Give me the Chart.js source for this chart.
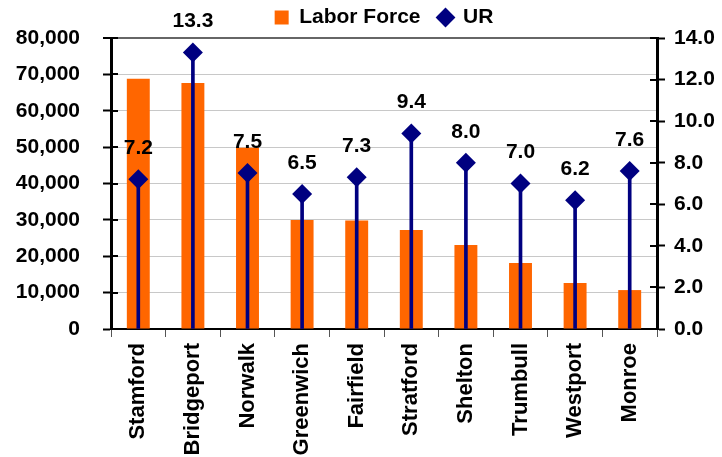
<!DOCTYPE html>
<html>
<head>
<meta charset="utf-8">
<script src="https://cdn.jsdelivr.net/npm/chart.js@4/dist/chart.umd.min.js"></script>
<style>
  body { margin: 0; background: #fff; }
</style>
</head>
<body>
<canvas id="myChart" width="722" height="457"></canvas>
<script>
// datos
const towns = ['Stamford', 'Bridgeport', 'Norwalk', 'Greenwich', 'Fairfield', 'Stratford', 'Shelton', 'Trumbull', 'Westport', 'Monroe'];
const laborForce = [68800, 67600, 49800, 30000, 29800, 27200, 23100, 18150, 12650, 10700];
const ur = [7.2, 13.3, 7.5, 6.5, 7.3, 9.4, 8.0, 7.0, 6.2, 7.6];

const FONT = "'Liberation Sans', Arial, Helvetica, sans-serif";
Chart.defaults.font.family = FONT;
Chart.defaults.font.weight = 'bold';
Chart.defaults.font.size = 21;
Chart.defaults.color = '#000';

// etiquetas encima de los rombos
const urLabels = {
  id: 'urLabels',
  afterDatasetsDraw(chart) {
    const meta = chart.getDatasetMeta(0);
    const ctx = chart.ctx;
    ctx.save();
    ctx.font = 'bold 21px ' + FONT;
    ctx.fillStyle = '#000';
    ctx.textAlign = 'center';
    ctx.textBaseline = 'middle';
    meta.data.forEach((pt, i) => {
      ctx.fillText(ur[i].toFixed(1), pt.x, pt.y - 31);
    });
    ctx.restore();
  }
};

// marcas que cruzan los ejes
const innerTicks = {
  id: 'innerTicks',
  afterDraw(chart) {
    const ctx = chart.ctx;
    const area = chart.chartArea;
    ctx.save();
    ctx.strokeStyle = '#000';
    ctx.lineWidth = 2;
    ['y', 'y2'].forEach(id => {
      const sc = chart.scales[id];
      sc.ticks.forEach((t, i) => {
        const py = Math.round(sc.getPixelForTick(i));
        ctx.beginPath();
        if (id === 'y') { ctx.moveTo(area.left, py); ctx.lineTo(area.left + 7, py); }
        else { ctx.moveTo(area.right - 7, py); ctx.lineTo(area.right, py); }
        ctx.stroke();
      });
    });
    ctx.restore();
  }
};

const data = {
  labels: towns,
  datasets: [{
    type: 'line',
    label: 'UR',
    data: ur,
    yAxisID: 'y2',
    showLine: false,
    pointStyle: 'rectRot',
    pointRadius: 10,
    pointHoverRadius: 10,
    backgroundColor: '#000080',
    borderColor: '#000080',
    borderWidth: 0,
    order: 0
  }, {
    type: 'bar',
    label: 'drop',
    data: ur,
    yAxisID: 'y2',
    backgroundColor: '#000080',
    barThickness: 3,
    grouped: false,
    order: 1
  }, {
    type: 'bar',
    label: 'Labor Force',
    data: laborForce,
    yAxisID: 'y',
    backgroundColor: '#ff6600',
    pointStyle: 'rect',
    categoryPercentage: 1,
    barPercentage: 0.42,
    grouped: false,
    order: 2
  }]
};

const config = {
  type: 'bar',
  data,
  options: {
    responsive: false,
    animation: false,
    layout: { padding: { top: -11, left: 0, right: 0, bottom: 0 } },
    plugins: {
      tooltip: { enabled: false },
      legend: {
        position: 'top',
        fullSize: false,
        reverse: true,
        labels: {
          usePointStyle: true,
          boxWidth: 14,
          boxHeight: 14,
          padding: 18,
          font: { size: 21, weight: 'bold' },
          filter: item => item.text !== 'drop'
        }
      }
    },
    scales: {
      x: {
        offset: true,
        grid: {
          offset: true,
          drawOnChartArea: false,
          tickLength: 8,
          tickColor: '#555',
          tickWidth: 1
        },
        border: { color: '#000', width: 2 },
        ticks: {
          minRotation: 90,
          maxRotation: 90,
          padding: 6,
          autoSkip: false,
          font: { size: 22, weight: 'bold' }
        },
        afterFit: s => { s.height = 128; }
      },
      y: {
        position: 'left',
        min: 0,
        max: 80000,
        ticks: {
          stepSize: 10000,
          padding: 23,
          callback: v => v.toLocaleString('en-US')
        },
        grid: {
          color: ctx => ctx.tick && ctx.tick.value === 80000 ? '#666' : '#c8c8c8',
          lineWidth: ctx => ctx.tick && ctx.tick.value === 80000 ? 2 : 1,
          tickLength: 8,
          tickColor: '#000',
          tickWidth: 2
        },
        border: { color: '#000', width: 3 },
        afterFit: s => { s.width = 111; }
      },
      y2: {
        position: 'right',
        min: 0,
        max: 14,
        ticks: {
          stepSize: 2,
          padding: 9,
          callback: v => v.toFixed(1)
        },
        grid: {
          drawOnChartArea: false,
          tickLength: 8,
          tickColor: '#000',
          tickWidth: 2
        },
        border: { color: '#000', width: 3 },
        afterFit: s => { s.width = 65; }
      }
    }
  },
  plugins: [urLabels, innerTicks]
};

const myChart = new Chart(document.getElementById('myChart'), config);
</script>
</body>
</html>
